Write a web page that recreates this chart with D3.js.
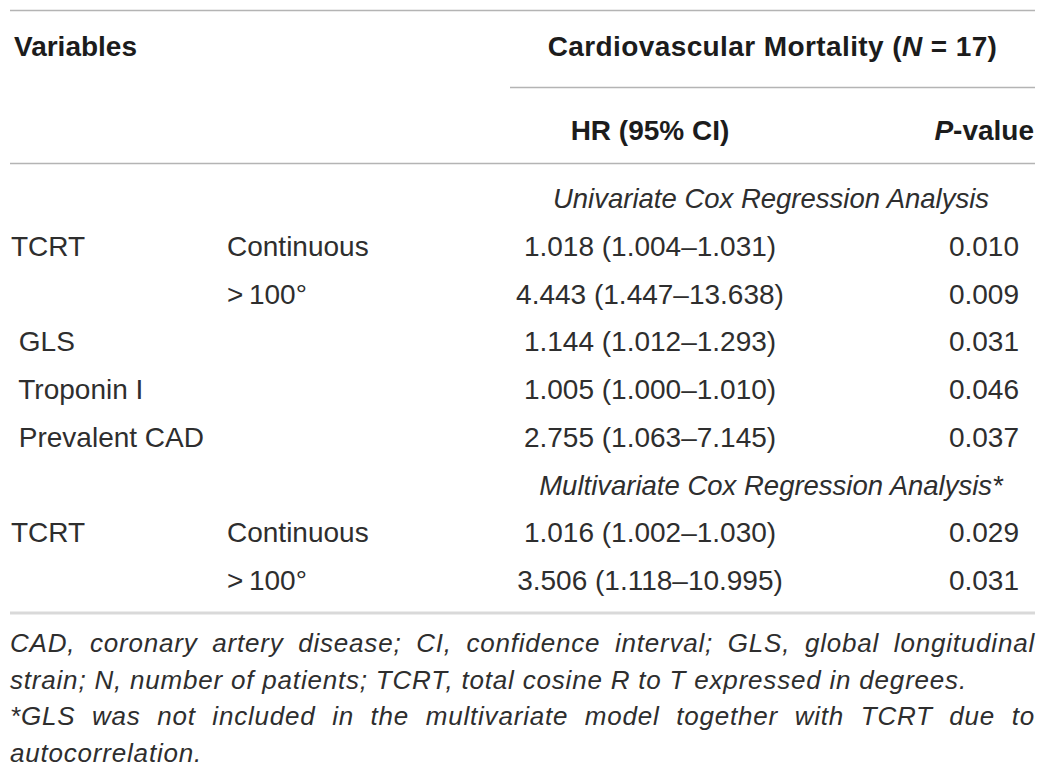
<!DOCTYPE html>
<html>
<head>
<meta charset="utf-8">
<script src="https://cdn.jsdelivr.net/npm/d3@7"></script>
<style>
  html, body { margin: 0; padding: 0; background: #fff; }
  svg { display: block; }
  text { font-family: "Liberation Sans", Arial, Helvetica, sans-serif; fill: #2e2e2e; }
  text.b { fill: #1c1c1c; }
</style>
</head>
<body>
<svg id="chart" width="1050" height="774"></svg>
<script>
// ---- data ----
const sections = ["Univariate Cox Regression Analysis", "Multivariate Cox Regression Analysis*"];
const rowVariables = ["TCRT", "", " GLS", " Troponin I", " Prevalent CAD", "TCRT", ""];
const rowSubgroups = ["Continuous", ">\u2009100°", "", "", "", "Continuous", ">\u2009100°"];
const rowSection = [0, 0, 0, 0, 0, 1, 1];
const hrValues = [1.018, 4.443, 1.144, 1.005, 2.755, 1.016, 3.506];
const ciLower = [1.004, 1.447, 1.012, 1.000, 1.063, 1.002, 1.118];
const ciUpper = [1.031, 13.638, 1.293, 1.010, 7.145, 1.030, 10.995];
const pValues = [0.010, 0.009, 0.031, 0.046, 0.037, 0.029, 0.031];
const footnoteLines = [
  "CAD, coronary artery disease; CI, confidence interval; GLS, global longitudinal",
  "strain; N, number of patients; TCRT, total cosine R to T expressed in degrees.",
  "*GLS was not included in the multivariate model together with TCRT due to",
  "autocorrelation."
];
const footnoteJustify = [true, false, true, false];

// ---- build the list of table lines (section headers + data rows) ----
const lines = [];
rowVariables.forEach((v, i) => {
  if (i === 0 || rowSection[i] !== rowSection[i - 1]) {
    lines.push({ type: "section", label: sections[rowSection[i]] });
  }
  lines.push({ type: "row", i });
});

const svg = d3.select("#chart");
const fmt3 = d3.format(".3f");

// vertical position of table lines
const y = d3.scaleLinear().domain([0, lines.length - 1]).range([208, 590]);

const X_LEFT = 10, X_RIGHT = 1035;
const X_VAR = 11, X_SUB = 227, X_HR = 650, X_P = 1019, X_SPAN = 510;
const X_SPAN_MID = (X_SPAN + X_RIGHT) / 2;

// rules
const rule = (x1, x2, yy, color, w) =>
  svg.append("line").attr("x1", x1).attr("x2", x2).attr("y1", yy).attr("y2", yy)
    .attr("stroke", color).attr("stroke-width", w);
rule(X_LEFT, X_RIGHT, 10.5, "#b4b4b4", 1.5);
rule(X_SPAN, X_RIGHT, 87.5, "#b4b4b4", 1.5);
rule(X_LEFT, X_RIGHT, 163.5, "#b4b4b4", 1.5);
rule(X_LEFT, X_RIGHT, 613, "#d9d9d9", 3);

// header
svg.append("text").attr("class", "b").attr("x", 14).attr("y", 56).attr("font-size", 28).attr("font-weight", "bold")
  .text("Variables");
const cv = svg.append("text").attr("class", "b").attr("x", X_SPAN_MID).attr("y", 56).attr("text-anchor", "middle")
  .attr("font-size", 28).attr("font-weight", "bold").attr("letter-spacing", 0.4);
cv.append("tspan").text("Cardiovascular Mortality (");
cv.append("tspan").attr("font-style", "italic").text("N");
cv.append("tspan").text(" = 17)");
svg.append("text").attr("class", "b").attr("x", X_HR).attr("y", 140).attr("text-anchor", "middle")
  .attr("font-size", 28).attr("font-weight", "bold").text("HR (95% CI)");
const pv = svg.append("text").attr("class", "b").attr("x", 1034).attr("y", 140).attr("text-anchor", "end")
  .attr("font-size", 28).attr("font-weight", "bold");
pv.append("tspan").attr("font-style", "italic").text("P");
pv.append("tspan").text("-value");

// body
const g = svg.append("g");
lines.forEach((ln, k) => {
  const yy = y(k);
  if (ln.type === "section") {
    g.append("text").attr("x", 771).attr("y", yy).attr("text-anchor", "middle")
      .attr("font-size", 27.5).attr("font-style", "italic").text(ln.label);
  } else {
    const i = ln.i;
    g.append("text").attr("x", X_VAR).attr("y", yy).attr("font-size", 28)
      .attr("xml:space", "preserve").style("white-space", "pre").text(rowVariables[i]);
    g.append("text").attr("x", X_SUB).attr("y", yy).attr("font-size", 28).text(rowSubgroups[i]);
    g.append("text").attr("x", X_HR).attr("y", yy).attr("font-size", 28).attr("text-anchor", "middle")
      .text(`${fmt3(hrValues[i])} (${fmt3(ciLower[i])}\u2013${fmt3(ciUpper[i])})`);
    g.append("text").attr("x", X_P).attr("y", yy).attr("font-size", 28).attr("text-anchor", "end")
      .text(fmt3(pValues[i]));
  }
});

// footnotes
const fy = d3.scaleLinear().domain([0, footnoteLines.length - 1]).range([652, 762]);
footnoteLines.forEach((t, i) => {
  const el = svg.append("text").attr("x", X_LEFT).attr("y", fy(i))
    .attr("font-size", 26).attr("letter-spacing", 0.8).attr("font-style", "italic").text(t);
  if (footnoteJustify[i]) {
    const natural = el.node().getComputedTextLength();
    const spaces = (t.match(/ /g) || []).length;
    const extra = (X_RIGHT - X_LEFT - natural) / spaces;
    if (extra > 0) el.style("word-spacing", extra + "px");
  }
});
</script>
</body>
</html>
